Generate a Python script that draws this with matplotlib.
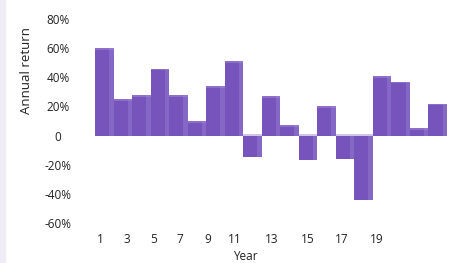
import matplotlib.pyplot as plt
import numpy as np

plt.rcParams['font.family'] = ['Open Sans', 'DejaVu Sans']

# data (annual return in %)
years = list(range(1, 20))
returns = [60, 25, 28, 46, 28, 10, 34, 51, -15, 27, 7, -17, 20, -16, -44, 41, 37, 5, 22]

# x tick labels and where they sit (in bar units, as in the original)
tick_labels = ['1', '3', '5', '7', '9', '11', '13', '15', '17', '19']
tick_pos = [0.77, 2.23, 3.68, 5.09, 6.6, 8.06, 10.05, 12.0, 13.83, 15.72]

y_ticks = [-60, -40, -20, 0, 20, 40, 60, 80]
y_labels = ['-60%', '-40%', '-20%', '0', '20%', '40%', '60%', '80%']

front = '#7753bc'
side = '#8567c6'
top = '#a48bd6'

fig = plt.figure(figsize=(4.58, 2.63), dpi=100)
ax = fig.add_axes([95 / 458, 40 / 263, 352 / 458, 204 / 263])

x = np.array(years)
vals = np.array(returns)

# fake 3D look: darker front face, lighter side strip, light cap
ax.bar(x - 0.12, vals, width=0.76, color=front, linewidth=0)
ax.bar(x + 0.38, vals, width=0.24, color=side, linewidth=0)
cap = np.where(vals >= 0, vals, 0)
ax.bar(x, np.full(len(vals), 1.2), bottom=cap - np.where(vals >= 0, 1.2, 0),
       width=1.0, color=top, linewidth=0, alpha=0.5)

ax.set_xlim(0.5, 19.5)
ax.set_ylim(-60, 80)
ax.set_xticks(tick_pos)
ax.set_xticklabels(tick_labels, fontsize=8.5, color='#222222')
ax.set_yticks(y_ticks)
ax.set_yticklabels(y_labels, fontsize=8.5, color='#222222', ha='center')
ax.tick_params(axis='y', length=0, pad=26.5)
ax.tick_params(axis='x', length=0, pad=7)
for s in ax.spines.values():
    s.set_visible(False)

fig.text(27 / 458, 1 - 70 / 263, 'Annual return', rotation=90, ha='center', va='center',
         fontsize=9.5, color='#222222')
fig.text(245 / 458, 1 - 256 / 263, 'Year', ha='center', va='center', fontsize=8.5,
         color='#222222')

# faint lavender strip on the left edge
fig.patches.append(plt.Rectangle((0, 0), 5 / 458, 1, transform=fig.transFigure,
                                 color='#efecf6', zorder=0))

fig.savefig('out.png', dpi=100)
